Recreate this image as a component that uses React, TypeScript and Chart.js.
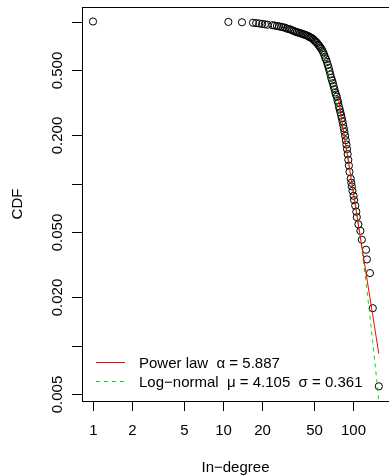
import { useEffect, useRef } from "react";
import { Chart, registerables } from "chart.js";

Chart.register(...registerables);

// Empirical CDF points (in-degree, P(X >= x))
const degree = [
  1, 11, 14, 17, 18, 19, 20, 21, 22, 24, 25, 26, 27, 28, 29, 30, 31, 32, 33, 34,
  35, 36, 37, 38, 39, 40, 41, 42, 43, 44, 45, 46, 47, 48, 49, 50, 51, 52, 53, 54,
  55, 56, 57, 58, 59, 60, 61, 62, 63, 64, 65, 66, 67, 68, 69, 70, 71, 72, 73, 74,
  75, 76, 77, 78, 79, 80, 81, 82, 83, 84, 85, 86, 87, 88, 89, 90, 91, 92, 93, 94,
  96, 97, 98, 99, 101, 102, 104, 106, 107, 110, 114, 117, 126, 128, 135, 142, 158,
];
const cdf = [
  1.0, 0.994, 0.989, 0.983, 0.978, 0.972, 0.966, 0.961, 0.955, 0.949, 0.944, 0.938,
  0.933, 0.927, 0.921, 0.916, 0.904, 0.899, 0.893, 0.882, 0.876, 0.865, 0.86, 0.854,
  0.848, 0.843, 0.837, 0.831, 0.826, 0.82, 0.815, 0.803, 0.798, 0.792, 0.781, 0.77,
  0.758, 0.747, 0.736, 0.719, 0.708, 0.691, 0.68, 0.663, 0.646, 0.624, 0.601, 0.584,
  0.562, 0.539, 0.517, 0.494, 0.472, 0.449, 0.433, 0.416, 0.399, 0.382, 0.365, 0.354,
  0.343, 0.326, 0.315, 0.298, 0.287, 0.275, 0.264, 0.253, 0.242, 0.23, 0.219, 0.208,
  0.197, 0.185, 0.174, 0.163, 0.152, 0.14, 0.129, 0.118, 0.107, 0.101, 0.096, 0.09,
  0.084, 0.079, 0.073, 0.067, 0.062, 0.056, 0.051, 0.045, 0.039, 0.034, 0.028, 0.017,
  0.0056,
];

// Fitted power law (straight in log-log)
const powerLawX = [77, 158];
const powerLawY = [0.34, 0.0089];

// Fitted log-normal
const lognormX = [59, 65, 70, 77, 85, 95, 105, 115, 125, 135, 145, 155, 162];
const lognormY = [
  0.61, 0.483, 0.394, 0.29, 0.199, 0.122, 0.0733, 0.0435, 0.0257, 0.0152, 0.00897,
  0.00531, 0.00369,
];

// Axes
const xTickValues = [1, 2, 5, 10, 20, 50, 100];
const xTickLabels = ["1", "2", "5", "10", "20", "50", "100"];
const yTickValues = [1, 0.5, 0.2, 0.1, 0.05, 0.02, 0.01, 0.005];
const yTickLabels = ["", "0.500", "0.200", "", "0.050", "0.020", "", "0.005"];
const xTitle = "In\u2212degree";
const yTitle = "CDF";
const legendLabels = [
  "Power law  \u03b1 = 5.887",
  "Log\u2212normal  \u03bc = 4.105  \u03c3 = 0.361",
];
const legendColors = ["#ff0000", "#00dd00"];

export default function App() {
  const ref = useRef<HTMLCanvasElement>(null);

  useEffect(() => {
    const canvas = ref.current!;
    const font = '15px "Liberation Sans", Arial, sans-serif';

    const rAxes = {
      id: "rAxes",
      afterDraw(chart: any) {
        const { ctx, chartArea: a, scales } = chart;
        const xs = scales.x;
        const ys = scales.y;
        ctx.save();
        ctx.strokeStyle = "#000";
        ctx.fillStyle = "#000";
        ctx.lineWidth = 1;
        ctx.setLineDash([]);
        // box
        ctx.strokeRect(a.left + 0.5, a.top + 0.5, a.right - a.left, a.bottom - a.top);
        ctx.font = font;
        // x ticks
        ctx.textAlign = "center";
        ctx.textBaseline = "alphabetic";
        xTickValues.forEach((v, i) => {
          const px = Math.round(xs.getPixelForValue(v)) + 0.5;
          ctx.beginPath();
          ctx.moveTo(px, a.bottom);
          ctx.lineTo(px, a.bottom + 10);
          ctx.stroke();
          ctx.fillText(xTickLabels[i], px, a.bottom + 34);
        });
        // y ticks
        yTickValues.forEach((v, i) => {
          const py = Math.round(ys.getPixelForValue(v)) + 0.5;
          ctx.beginPath();
          ctx.moveTo(a.left - 10, py);
          ctx.lineTo(a.left, py);
          ctx.stroke();
          if (yTickLabels[i]) {
            ctx.save();
            ctx.translate(a.left - 20, py);
            ctx.rotate(-Math.PI / 2);
            ctx.fillText(yTickLabels[i], 0, 0);
            ctx.restore();
          }
        });
        // titles
        ctx.fillText(xTitle, (a.left + a.right) / 2, a.bottom + 71);
        ctx.save();
        ctx.translate(22, (a.top + a.bottom) / 2);
        ctx.rotate(-Math.PI / 2);
        ctx.fillText(yTitle, 0, 0);
        ctx.restore();
        // legend
        ctx.textAlign = "left";
        legendLabels.forEach((lab, i) => {
          const ly = a.bottom - 38.5 + i * 19;
          ctx.strokeStyle = legendColors[i];
          ctx.setLineDash(i === 1 ? [4, 4] : []);
          ctx.beginPath();
          ctx.moveTo(a.left + 14, ly);
          ctx.lineTo(a.left + 43, ly);
          ctx.stroke();
          ctx.fillStyle = "#000";
          ctx.fillText(lab, a.left + 57, ly + 5.5);
        });
        ctx.restore();
      },
    };

    const chart = new Chart(canvas, {
      type: "scatter",
      data: {
        datasets: [
          {
            data: powerLawX.map((x, i) => ({ x, y: powerLawY[i] })),
            showLine: true,
            borderColor: "#ff0000",
            borderWidth: 1,
            pointRadius: 0,
            order: 0,
          },
          {
            data: lognormX.map((x, i) => ({ x, y: lognormY[i] })),
            showLine: true,
            borderColor: "#00dd00",
            borderDash: [4, 4],
            borderWidth: 1,
            pointRadius: 0,
            order: 1,
          },
          {
            data: degree.map((x, i) => ({ x, y: cdf[i] })),
            showLine: false,
            pointStyle: "circle",
            pointRadius: 3.6,
            pointHoverRadius: 3.6,
            borderColor: "#000",
            backgroundColor: "rgba(0,0,0,0)",
            borderWidth: 1,
            order: 2,
          },
        ],
      },
      options: {
        animation: false,
        responsive: false,
        events: [],
        layout: { autoPadding: false, padding: { left: 82, top: 7, right: 0, bottom: 74 } },
        plugins: { legend: { display: false }, tooltip: { enabled: false } },
        scales: {
          x: { type: "logarithmic", min: 0.8229, max: 189.2, display: false },
          y: { type: "logarithmic", min: 0.004545, max: 1.229, display: false },
        },
      },
      plugins: [rAxes],
    } as any);

    return () => chart.destroy();
  }, []);

  return (
    <div style={{ position: "fixed", left: 0, top: 0, width: 389, height: 475, background: "#fff" }}>
      <canvas ref={ref} width={389} height={475} style={{ display: "block", width: 389, height: 475 }} />
    </div>
  );
}
